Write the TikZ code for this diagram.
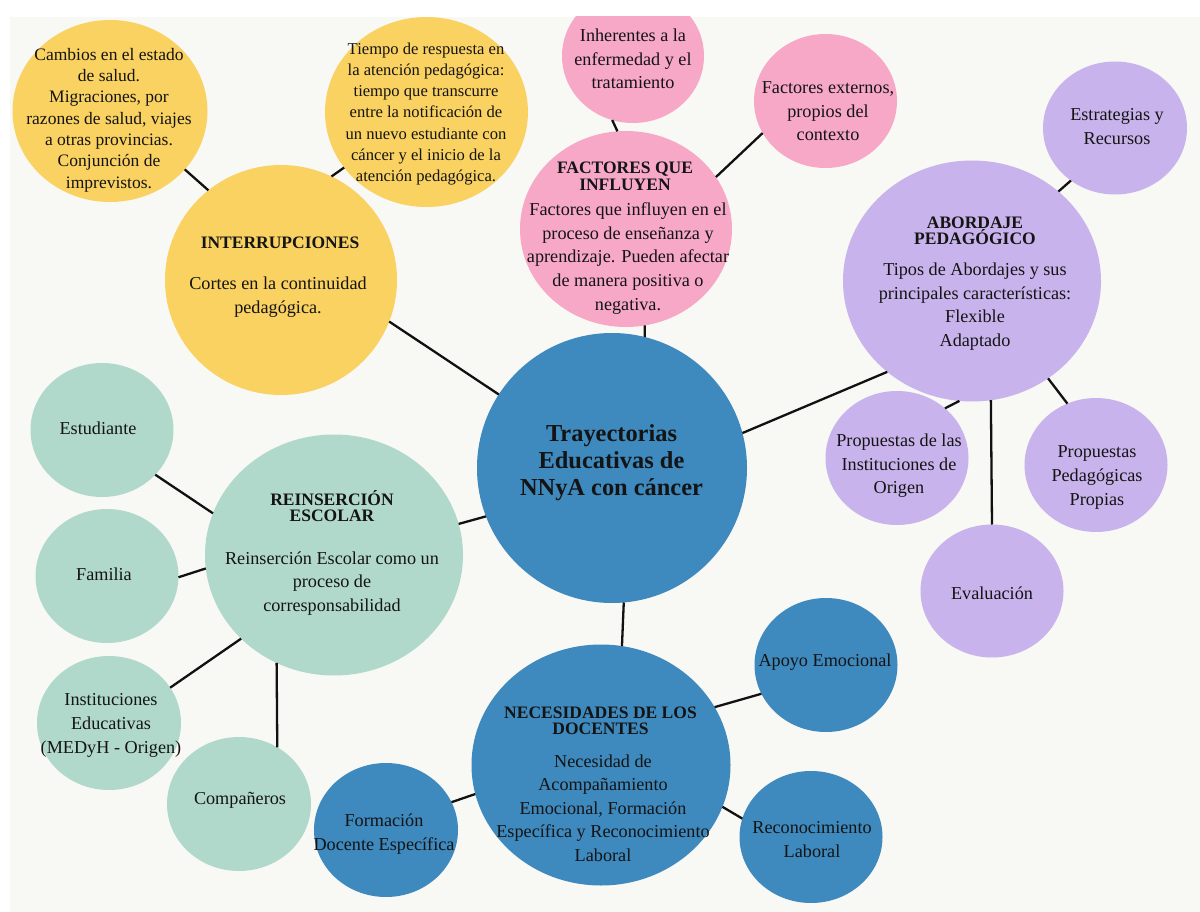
\documentclass[tikz,border=0pt]{standalone}
\usepackage{fontspec}
\setmainfont{Liberation Serif}
\usetikzlibrary{shapes.geometric}
\definecolor{bgc}{HTML}{F8F8F4}
\definecolor{cyel}{HTML}{FAD262}
\definecolor{cpink}{HTML}{F7A8C6}
\definecolor{clav}{HTML}{C9B3EC}
\definecolor{cmint}{HTML}{B1D9CB}
\definecolor{cblue}{HTML}{3E89BD}
\definecolor{txtc}{HTML}{141414}
\definecolor{linec}{HTML}{111111}
\lineskiplimit=-30pt
\tikzset{
  bub/.style={ellipse, inner sep=0pt, outer sep=0pt, draw=none},
  sm/.style={bub, minimum width=143pt, minimum height=134pt},
  big/.style={bub, minimum width=258pt, minimum height=241pt},
  body/.style={align=center, inner sep=0pt, text=txtc, font=\fontsize{18.2}{23.6}\selectfont},
  bodys/.style={align=center, inner sep=0pt, text=txtc, font=\fontsize{#1}{21.3}\selectfont},
  ttl/.style={align=center, inner sep=0pt, text=txtc, font=\fontsize{17.5}{#1}\selectfont\bfseries},
  ttl/.default=15,
  link/.style={line width=2.3pt, draw=linec},
}
\begin{document}
\begin{tikzpicture}[x=1pt,y=-1pt]
\lineskiplimit=-30pt
\useasboundingbox (0,0) rectangle (1200,912);
\fill[white] (0,0) rectangle (1200,912);
\fill[bgc] (10,17) rectangle (1200,912);
\begin{scope}
\clip (10,17) rectangle (1200,912);
% circles
\node[bub, fill=cblue, minimum width=270pt, minimum height=270pt] (c) at (612,468) {};
\node[bub, fill=cyel, minimum width=232pt, minimum height=230pt] (int) at (281,280) {};
\node[bub, fill=cyel, minimum width=195pt, minimum height=182pt] (camb) at (110,111) {};
\node[bub, fill=cyel, minimum width=203pt, minimum height=190pt] (tiem) at (426.5,112) {};
\node[sm, fill=cpink, minimum width=142pt] (inh) at (633,56) {};
\node[bub, fill=cpink, minimum width=212pt, minimum height=196pt] (fac) at (626,229) {};
\node[sm, fill=cpink] (fext) at (825.5,101) {};
\node[sm, fill=clav, minimum width=144pt, minimum height=133pt] (estr) at (1115,128) {};
\node[big, fill=clav] (abo) at (972,281) {};
\node[sm, fill=clav] (pinst) at (897,458) {};
\node[sm, fill=clav] (pped) at (1096,465) {};
\node[sm, fill=clav, minimum height=133pt] (eval) at (992,591) {};
\node[big, fill=cmint] (rein) at (334,555) {};
\node[sm, fill=cmint] (estud) at (102,430) {};
\node[sm, fill=cmint] (fam) at (107,576) {};
\node[sm, fill=cmint, minimum width=144pt] (inste) at (109,723) {};
\node[sm, fill=cmint, minimum width=144pt] (comp) at (239,804) {};
\node[big, fill=cblue, minimum width=259pt] (nec) at (601,765) {};
\node[sm, fill=cblue] (apoyo) at (826,665) {};
\node[sm, fill=cblue, minimum height=132pt] (recon) at (811,837) {};
\node[sm, fill=cblue, minimum width=144pt] (form) at (386,830) {};
% connectors
\draw[link] (c.147) -- (int.-21);
\draw[link] (camb.-38) -- (int.129);
\draw[link] (tiem.214) -- (int.64);
\draw[link] (inh.252) -- (fac.95);
\draw[link] (fext.207.5) -- (fac.30);
\draw[link] (c.76) -- (fac.-79);
\draw[link] (c.15) -- (abo.227);
\draw[link] (abo.46.6) -- (estr.230);
\draw[link] (abo.264) -- (pinst.46);
\draw[link] (abo.279.4) -- (eval.90);
\draw[link] (abo.308) -- (pped.115);
\draw[link] (c.201) -- (rein.14.5);
\draw[link] (rein.161) -- (estud.-40);
\draw[link] (rein.186) -- (fam.-1);
\draw[link] (rein.222) -- (inste.30);
\draw[link] (rein.242) -- (comp.56);
\draw[link] (c.275) -- (nec.80);
\draw[link] (nec.27) -- (apoyo.204);
\draw[link] (nec.-19) -- (recon.165);
\draw[link] (nec.193) -- (form.23);
% texts
\node[ttl, font=\fontsize{24.4}{27}\selectfont\bfseries] (c-t) at (611.5,463) {Trayectorias\\Educativas de\\NNyA con cáncer};
\node[bodys=17.5] (camb-t) at (109,120) {Cambios en el estado\\de salud.\\Migraciones, por\\razones de salud, viajes\\a otras provincias.\\Conjunción de\\imprevistos.};
\node[bodys=16.6] (tiem-t) at (426,114) {Tiempo de respuesta en\\la atención pedagógica:\\tiempo que transcurre\\entre la notificación de\\un nuevo estudiante con\\cáncer y el inicio de la\\atención pedagógica.};
\node[ttl] (int-tt) at (280,243) {INTERRUPCIONES};
\node[body] (int-t) at (278,297) {Cortes en la continuidad\\pedagógica.};
\node[body] (inh-t) at (633,59) {Inherentes a la\\enfermedad y el\\tratamiento};
\node[ttl=17] (fac-tt) at (625,176.5) {FACTORES QUE\\INFLUYEN};
\node[body] (fac-t) at (628,258.5) {Factores que influyen en el\\proceso de enseñanza y\\aprendizaje. Pueden afectar\\de manera positiva o\\negativa.};
\node[body] (fext-t) at (828,111.5) {Factores externos,\\propios del\\contexto};
\node[body] (estr-t) at (1117,126.5) {Estrategias y\\Recursos};
\node[ttl=16] (abo-tt) at (975,231) {ABORDAJE\\PEDAGÓGICO};
\node[body] (abo-t) at (975,306.5) {Tipos de Abordajes y sus\\principales características:\\Flexible\\Adaptado};
\node[body] (pinst-t) at (899,466) {Propuestas de las\\Instituciones de\\Origen};
\node[body] (pped-t) at (1097,477.5) {Propuestas\\Pedagógicas\\Propias};
\node[body] (eval-t) at (992,593) {Evaluación};
\node[ttl=15.5] (rein-tt) at (332,506) {REINSERCIÓN\\ESCOLAR};
\node[body] (rein-t) at (332,583.5) {Reinserción Escolar como un\\proceso de\\corresponsabilidad};
\node[body] (estud-t) at (98,428) {Estudiante};
\node[body] (fam-t) at (104,574) {Familia};
\node[body] (inste-t) at (111,725.5) {Instituciones\\Educativas\\(MEDyH - Origen)};
\node[body] (comp-t) at (240,800) {Compañeros};
\node[ttl=15.5] (nec-tt) at (600.5,721) {NECESIDADES DE LOS\\DOCENTES};
\node[body] (nec-t) at (603,808) {Necesidad de\\Acompañamiento\\Emocional, Formación\\Específica y Reconocimiento\\Laboral};
\node[body] (apoyo-t) at (825,662) {Apoyo Emocional};
\node[body] (recon-t) at (812,839.5) {Reconocimiento\\Laboral};
\node[body] (form-t) at (384,834) {Formación\\Docente Específica};
\end{scope}
\end{tikzpicture}
\end{document}
